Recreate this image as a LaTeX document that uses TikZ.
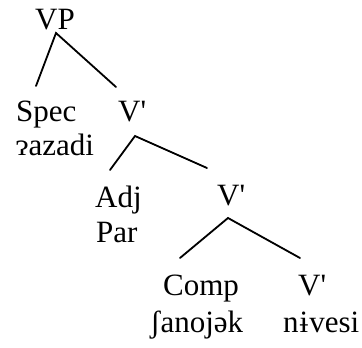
\documentclass[tikz,border=0pt]{standalone}
\usepackage{fontspec}
\setmainfont{Liberation Serif}[Ligatures=TeXOff]
\begin{document}
\begin{tikzpicture}[x=1pt,y=-1pt,
  lbl/.style={anchor=base west, inner sep=0pt, font=\fontsize{31}{36}\selectfont},
  edge/.style={line width=1.8pt, line cap=round}]
\useasboundingbox[fill=white] (0,0) rectangle (362,348);
% labels
\node[lbl] (vp)    at (35,29)  {VP};
\node[lbl] (spec)  at (16,121) {Spec};
\node[lbl] (specw) at (16,155) {ɂazadi};
\node[lbl] (v1)    at (118,121) {V'};
\node[lbl] (adj)   at (95,207) {Adj};
\node[lbl] (adjw)  at (96,242) {Par};
\node[lbl] (v2)    at (217,205) {V'};
\node[lbl] (comp)  at (163,295) {Comp};
\node[lbl] (compw) at (150,332) {ʃanojək};
\node[lbl] (v3)    at (298,295) {V'};
\node[lbl] (v3w)   at (283,332) {n\kern1ptɨ\kern1ptvesi};
% connector ends
\coordinate (vp-b)   at (56,33);
\coordinate (spec-t) at (36,86);
\coordinate (v1-t)   at (116,87);
\coordinate (v1-b)   at (135,136);
\coordinate (adj-t)  at (110,170);
\coordinate (v2-t)   at (207,168);
\coordinate (v2-b)   at (228,218);
\coordinate (comp-t) at (180,258);
\coordinate (v3-t)   at (300,258);
\draw[edge] (spec-t) -- (vp-b) -- (v1-t);
\draw[edge] (adj-t) -- (v1-b) -- (v2-t);
\draw[edge] (comp-t) -- (v2-b) -- (v3-t);
\end{tikzpicture}
\end{document}
